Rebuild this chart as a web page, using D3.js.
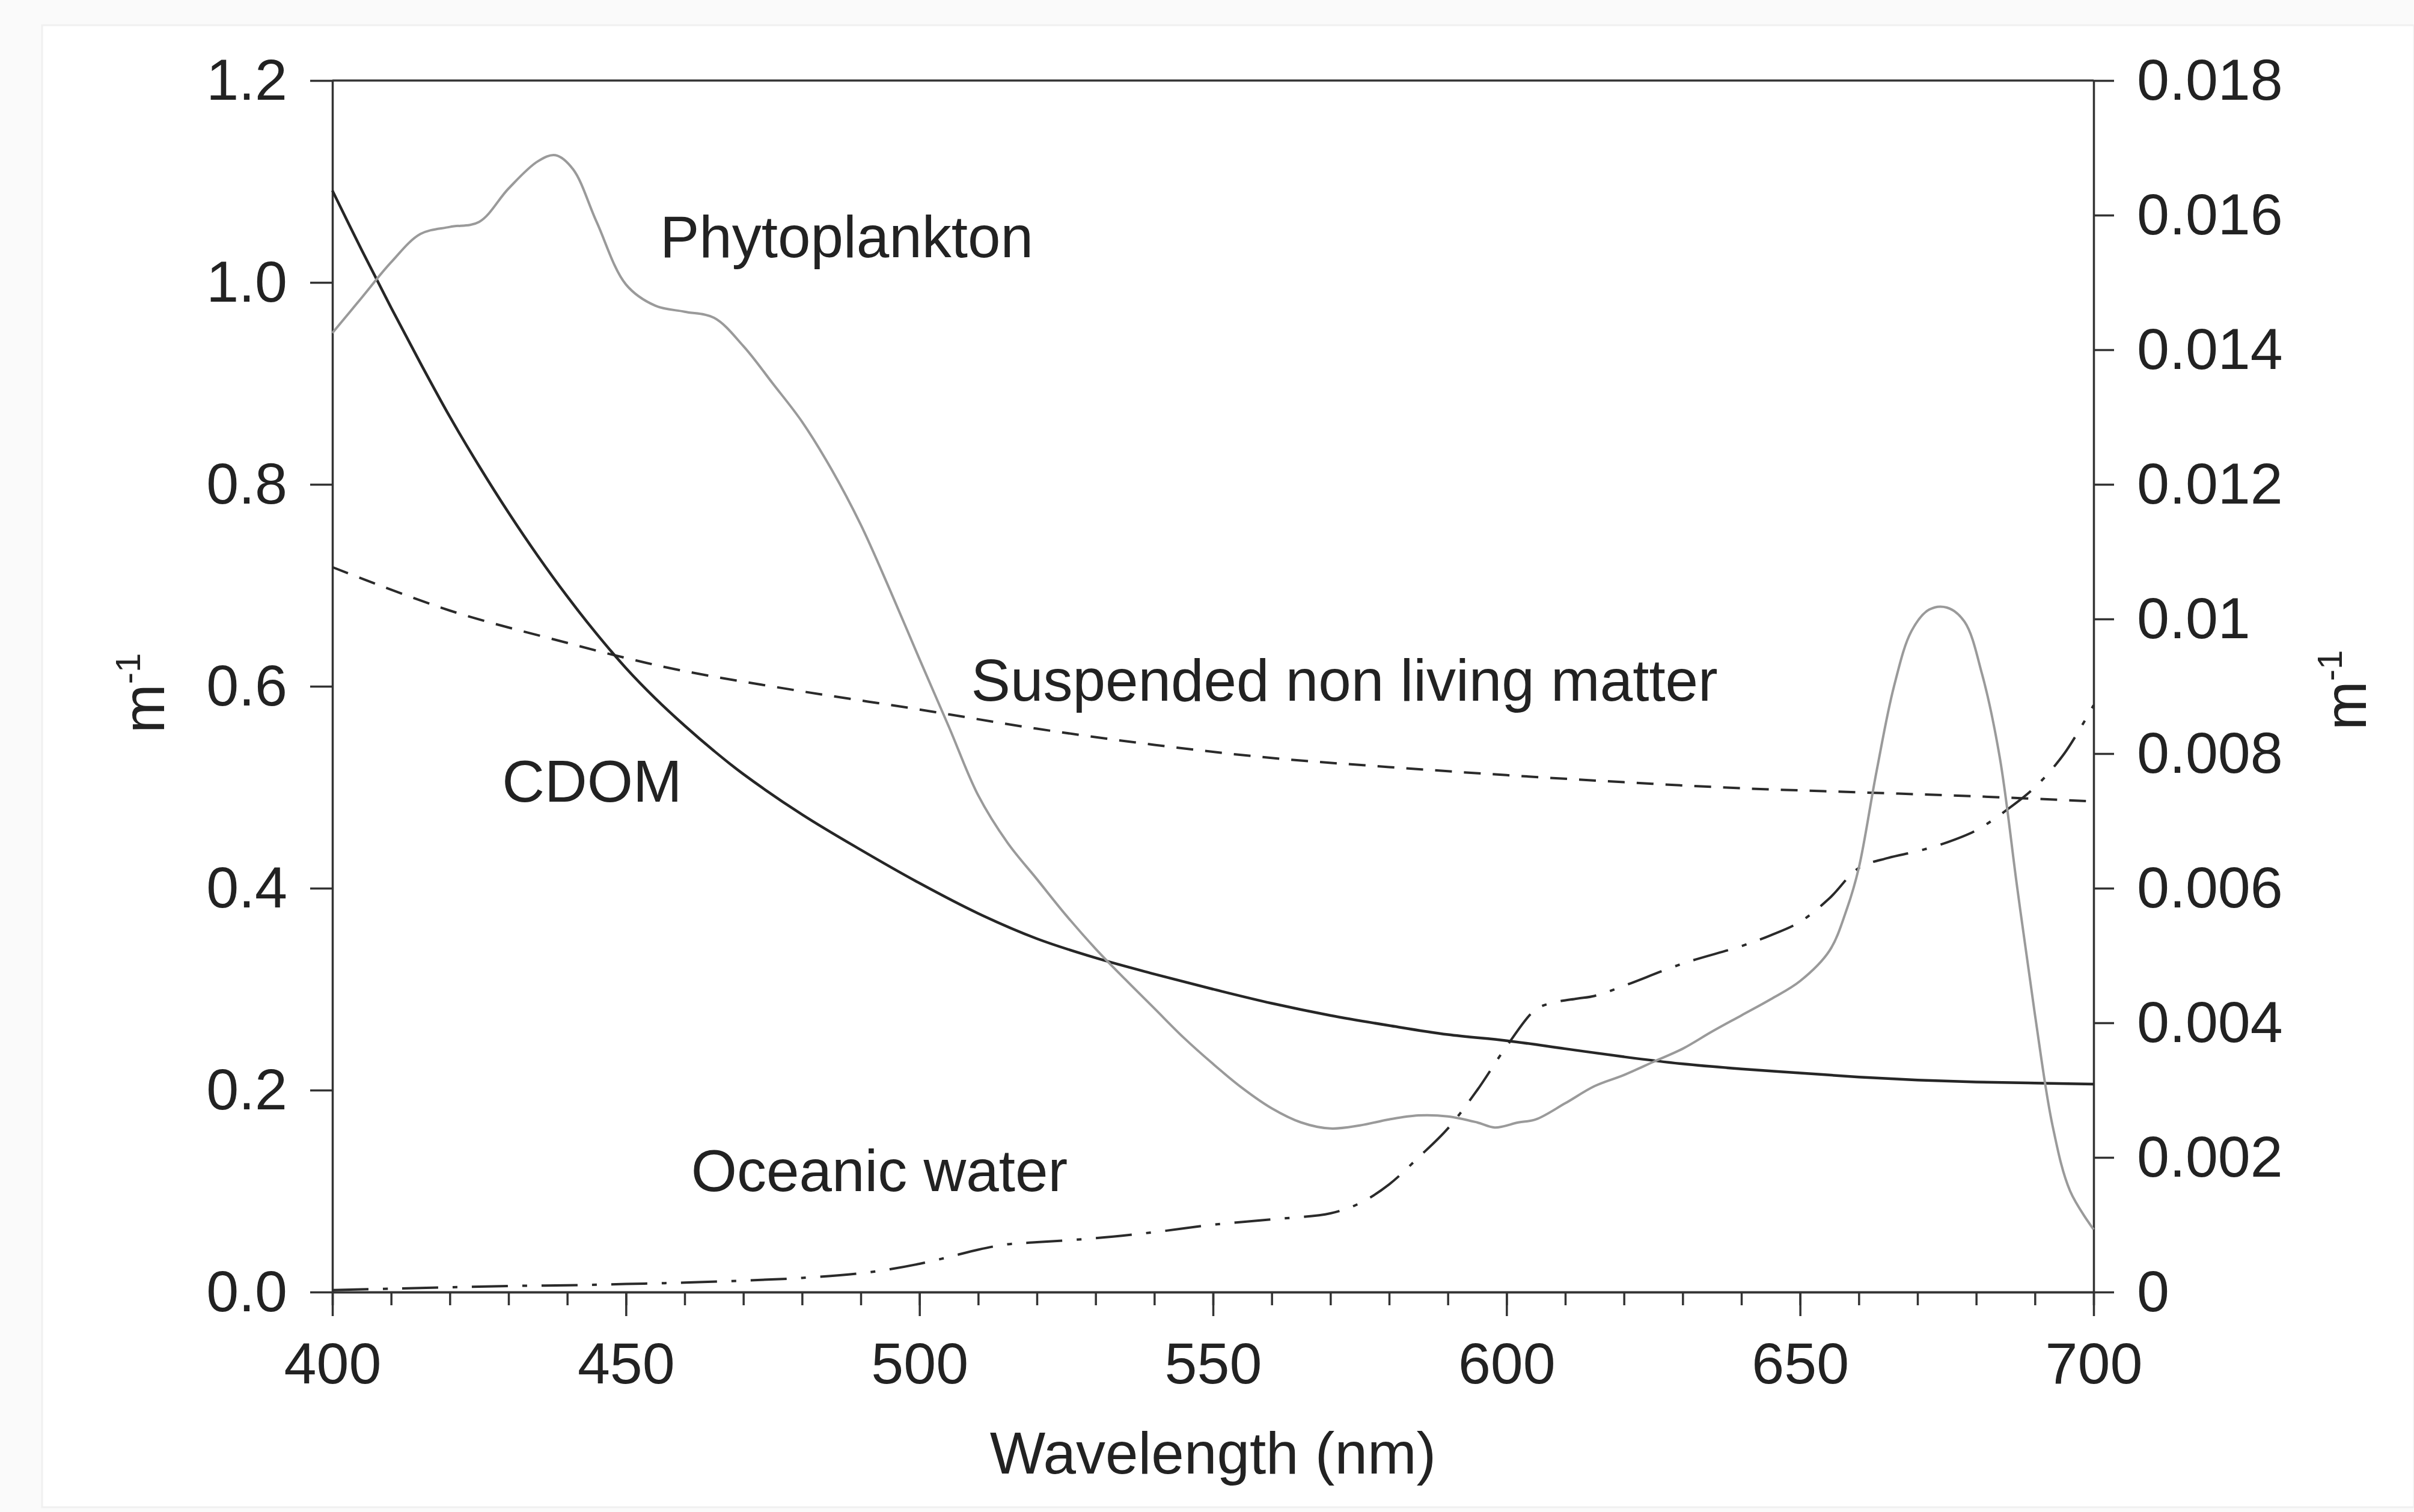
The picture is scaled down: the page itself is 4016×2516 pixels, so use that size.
<!DOCTYPE html>
<html>
<head>
<meta charset="utf-8">
<script src="https://cdn.jsdelivr.net/npm/d3@7"></script>
<style>
  body { margin: 0; background: #fafafa; }
  svg { display: block; }
  text { font-family: "Liberation Sans", Arial, sans-serif; fill: #222; }
</style>
</head>
<body>
<svg id="chart" width="4016" height="2516"></svg>
<script>
// wavelengths (nm) and absorption values
var phytoWl  = [400,405,410,415,420,425,430,435,438,441,445,450,455,460,465,470,475,480,485,490,495,500,505,510,515,520,525,530,535,540,545,550,555,560,565,570,575,580,585,590,595,598,602,605,610,615,620,625,630,635,640,645,650,655,658,660,663,666,669,672,675,678,681,684,687,690,693,696,700];
var phytoVal = [0.950,0.985,1.020,1.048,1.055,1.060,1.093,1.120,1.126,1.112,1.060,0.998,0.977,0.971,0.965,0.937,0.900,0.862,0.815,0.760,0.695,0.627,0.560,0.492,0.445,0.409,0.373,0.340,0.310,0.281,0.252,0.226,0.202,0.182,0.168,0.162,0.165,0.171,0.175,0.174,0.168,0.163,0.168,0.171,0.187,0.204,0.215,0.228,0.241,0.258,0.274,0.290,0.308,0.338,0.380,0.420,0.515,0.600,0.655,0.676,0.678,0.664,0.612,0.530,0.400,0.275,0.165,0.100,0.062];

var cdomWl  = [400,405,410,415,420,425,430,435,440,445,450,455,460,465,470,480,490,500,510,520,530,540,550,560,570,580,590,600,610,620,630,640,650,660,670,680,690,700];
var cdomVal = [1.091,1.032,0.975,0.920,0.867,0.818,0.772,0.729,0.689,0.652,0.618,0.588,0.561,0.536,0.513,0.473,0.438,0.405,0.375,0.350,0.331,0.315,0.300,0.286,0.274,0.264,0.255,0.249,0.241,0.233,0.226,0.221,0.217,0.213,0.210,0.208,0.207,0.206];

var snlmWl  = [400,420,440,450,460,480,500,520,540,560,580,600,620,640,660,680,700];
var snlmVal = [0.718,0.675,0.643,0.628,0.615,0.595,0.577,0.558,0.542,0.529,0.520,0.512,0.505,0.499,0.495,0.491,0.486];

// oceanic water uses the right axis
var waterWl  = [400,410,420,430,440,450,460,470,480,490,495,500,505,510,515,520,530,540,550,560,570,575,580,585,590,595,600,605,608,612,615,620,630,640,645,650,655,660,665,670,675,680,685,690,695,700];
var waterVal = [0.00003,0.00005,0.00007,0.00009,0.00010,0.00012,0.00014,0.00017,0.00021,0.00028,0.00034,0.00042,0.00052,0.00063,0.00071,0.00074,0.00080,0.00089,0.00100,0.00108,0.00117,0.00132,0.00160,0.00200,0.00243,0.00300,0.00365,0.00420,0.00430,0.00436,0.00440,0.00455,0.00488,0.00514,0.00530,0.00550,0.00585,0.00630,0.00645,0.00655,0.00668,0.00686,0.00715,0.00750,0.00800,0.00872];

var xMajorTicks = [400,450,500,550,600,650,700];
var leftTicks   = [0,0.2,0.4,0.6,0.8,1.0,1.2];
var rightTicks  = [0,0.002,0.004,0.006,0.008,0.01,0.012,0.014,0.016,0.018];

var seriesLabels = [
  {text: "Phytoplankton", wl: 455.8, val: 1.025},
  {text: "Suspended non living matter", wl: 508.8, val: 0.586},
  {text: "CDOM", wl: 428.9, val: 0.486},
  {text: "Oceanic water", wl: 461.1, val: 0.100}
];

var zip = function(a, b) {
    return a.map(function(d, i) { return [d, b[i]]; });
}

var svg = d3.select("#chart");
var plotLeft = 553, plotRight = 3483, plotTop = 134, plotBottom = 2150;

// faint page frame like the scanned figure
svg.append("rect").attr("x", 70).attr("y", 42).attr("width", 3946).attr("height", 2466)
    .attr("fill", "#fff").attr("stroke", "#f0f0f0").attr("stroke-width", 3);

var x = d3.scaleLinear().domain([400, 700]).range([plotLeft, plotRight]);
var yL = d3.scaleLinear().domain([0, 1.2]).range([plotBottom, plotTop]);
var yR = d3.scaleLinear().domain([0, 0.018]).range([plotBottom, plotTop]);

var styleAxis = function(g) {
    g.selectAll("path.domain").attr("stroke", "#333").attr("stroke-width", 3.5);
    g.selectAll(".tick line").attr("stroke", "#333").attr("stroke-width", 3.5);
    g.selectAll(".tick text").attr("font-size", 97).attr("fill", "#222")
        .style("font-family", '"Liberation Sans", Arial, sans-serif');
}

// minor x ticks
var gMinor = svg.append("g").attr("transform", "translate(0," + plotBottom + ")")
    .call(d3.axisBottom(x).tickValues(d3.range(400, 701, 10)).tickSize(22).tickSizeOuter(0).tickFormat(""));
styleAxis(gMinor);

var gx = svg.append("g").attr("transform", "translate(0," + plotBottom + ")")
    .call(d3.axisBottom(x).tickValues(xMajorTicks).tickSize(40).tickSizeOuter(0).tickPadding(43).tickFormat(d3.format("d")));
styleAxis(gx);

var gl = svg.append("g").attr("transform", "translate(" + plotLeft + ",0)")
    .call(d3.axisLeft(yL).tickValues(leftTicks).tickSize(37).tickSizeOuter(0).tickPadding(38).tickFormat(d3.format(".1f")));
styleAxis(gl);

var gr = svg.append("g").attr("transform", "translate(" + plotRight + ",0)")
    .call(d3.axisRight(yR).tickValues(rightTicks).tickSize(34).tickSizeOuter(0).tickPadding(38)
        .tickFormat(function(d) { return String(+d.toFixed(3)); }));
styleAxis(gr);

// top border
svg.append("line").attr("x1", plotLeft).attr("x2", plotRight).attr("y1", plotTop).attr("y2", plotTop)
    .attr("stroke", "#333").attr("stroke-width", 3.5);

// curves
var lineL = d3.line().x(function(d) { return x(d[0]); }).y(function(d) { return yL(d[1]); }).curve(d3.curveCatmullRom.alpha(0.5));
var lineR = d3.line().x(function(d) { return x(d[0]); }).y(function(d) { return yR(d[1]); }).curve(d3.curveCatmullRom.alpha(0.5));

var plot = svg.append("g");
plot.append("path").datum(zip(snlmWl, snlmVal)).attr("d", lineL)
    .attr("fill", "none").attr("stroke", "#2a2a2a").attr("stroke-width", 4).attr("stroke-dasharray", "28,20");
plot.append("path").datum(zip(waterWl, waterVal)).attr("d", lineR)
    .attr("fill", "none").attr("stroke", "#2a2a2a").attr("stroke-width", 4).attr("stroke-dasharray", "60,24,8,24");
plot.append("path").datum(zip(cdomWl, cdomVal)).attr("d", lineL)
    .attr("fill", "none").attr("stroke", "#262626").attr("stroke-width", 4.5);
plot.append("path").datum(zip(phytoWl, phytoVal)).attr("d", lineL)
    .attr("fill", "none").attr("stroke", "#9a9a9a").attr("stroke-width", 4);

// series labels
svg.selectAll("text.series").data(seriesLabels).enter().append("text")
    .attr("class", "series")
    .attr("x", function(d) { return x(d.wl); })
    .attr("y", function(d) { return yL(d.val); })
    .attr("font-size", 98)
    .text(function(d) { return d.text; });

// axis titles
svg.append("text").attr("x", (plotLeft + plotRight) / 2).attr("y", 2452).attr("text-anchor", "middle")
    .attr("font-size", 98).text("Wavelength (nm)");

var unitLabel = function(px, py) {
    var t = svg.append("text").attr("transform", "translate(" + px + "," + py + ") rotate(-90)")
        .attr("font-size", 98);
    t.append("tspan").text("m");
    t.append("tspan").attr("font-size", 58).attr("dy", -40).text("-1");
}
unitLabel(273, 1220);
unitLabel(3936, 1215);
</script>
</body>
</html>
